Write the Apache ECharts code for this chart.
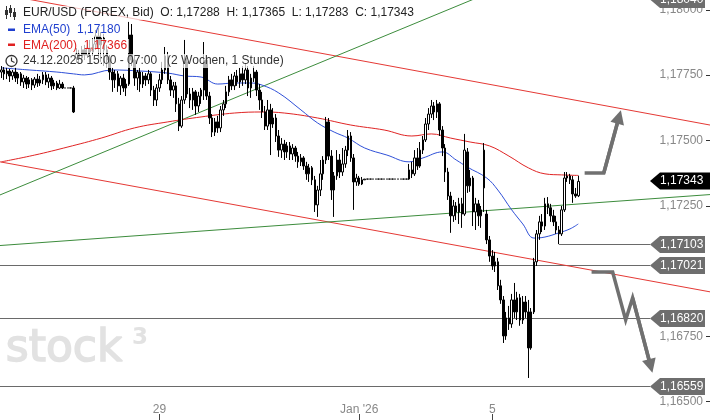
<!DOCTYPE html>
<html><head><meta charset="utf-8">
<script src="https://cdn.jsdelivr.net/npm/echarts@6/dist/echarts.min.js"></script>
<style>html,body{margin:0;padding:0;background:#fff}#c{width:710px;height:420px}</style>
</head><body><div id="c"></div>
<script>
// ---- DATA (hourly candles: [open, close, low, high]) ----
const ohlc = [
[1.17762,1.17770,1.17739,1.17785],[1.17770,1.17755,1.17732,1.17781],[1.17755,1.17766,1.17735,1.17778],[1.17766,1.17747,1.17724,1.17774],
[1.17747,1.17762,1.17732,1.17770],[1.17762,1.17739,1.17724,1.17778],[1.17739,1.17755,1.17716,1.17762],[1.17755,1.17724,1.17709,1.17762],
[1.17724,1.17739,1.17701,1.17751],[1.17739,1.17716,1.17697,1.17747],[1.17716,1.17732,1.17701,1.17743],[1.17732,1.17712,1.17693,1.17739],
[1.17712,1.17735,1.17701,1.17743],[1.17735,1.17720,1.17705,1.17755],[1.17720,1.17732,1.17709,1.17747],[1.17732,1.17751,1.17716,1.17762],
[1.17751,1.17724,1.17712,1.17762],[1.17724,1.17739,1.17701,1.17755],[1.17739,1.17709,1.17693,1.17747],[1.17709,1.17720,1.17697,1.17732],
[1.17720,1.17701,1.17693,1.17728],[1.17701,1.17716,1.17697,1.17732],[1.17716,1.17701,1.17697,1.17724],[1.17701,1.17701,1.17701,1.17701],
[1.17701,1.17701,1.17701,1.17701],[1.17701,1.17701,1.17701,1.17701],[1.17701,1.17609,1.17605,1.17709],[1.17816,1.17831,1.17797,1.17854],
[1.17831,1.17816,1.17801,1.17847],[1.17816,1.17847,1.17801,1.17862],[1.17847,1.17827,1.17808,1.17866],[1.17827,1.17854,1.17816,1.17877],
[1.17854,1.17839,1.17820,1.17885],[1.17839,1.17869,1.17824,1.17892],[1.17869,1.17900,1.17847,1.17923],[1.17900,1.17866,1.17816,1.17931],
[1.17866,1.17892,1.17801,1.17915],[1.17892,1.17847,1.17785,1.17908],[1.17847,1.17808,1.17778,1.17866],[1.17808,1.17762,1.17732,1.17827],
[1.17762,1.17732,1.17686,1.17778],[1.17732,1.17755,1.17701,1.17770],[1.17755,1.17709,1.17686,1.17766],[1.17709,1.17739,1.17674,1.17747],
[1.17739,1.17701,1.17686,1.17755],[1.17701,1.17716,1.17670,1.17735],[1.17716,1.17904,1.17709,1.17954],[1.17904,1.17808,1.17785,1.17946],
[1.17808,1.17739,1.17709,1.17824],[1.17739,1.17762,1.17693,1.17770],[1.17762,1.17716,1.17686,1.17778],[1.17716,1.17747,1.17701,1.17762],
[1.17747,1.17732,1.17709,1.17758],[1.17732,1.17755,1.17716,1.17770],[1.17755,1.17693,1.17670,1.17762],[1.17693,1.17655,1.17632,1.17709],
[1.17655,1.17701,1.17632,1.17716],[1.17701,1.17732,1.17686,1.17755],[1.17732,1.17770,1.17716,1.17801],[1.17770,1.17824,1.17755,1.17858],
[1.17824,1.17732,1.17716,1.17839],[1.17732,1.17693,1.17670,1.17747],[1.17693,1.17709,1.17663,1.17724],[1.17709,1.17640,1.17609,1.17724],
[1.17640,1.17555,1.17536,1.17663],[1.17555,1.17655,1.17548,1.17670],[1.17655,1.17801,1.17640,1.17885],[1.17801,1.17678,1.17663,1.17816],
[1.17678,1.17655,1.17624,1.17701],[1.17655,1.17686,1.17617,1.17701],[1.17686,1.17632,1.17598,1.17693],[1.17632,1.17670,1.17609,1.17686],
[1.17670,1.17693,1.17640,1.17701],[1.17693,1.17808,1.17655,1.17877],[1.17808,1.17670,1.17655,1.17824],[1.17670,1.17586,1.17563,1.17686],
[1.17586,1.17532,1.17513,1.17601],[1.17532,1.17571,1.17517,1.17586],[1.17571,1.17548,1.17529,1.17594],[1.17548,1.17617,1.17532,1.17632],
[1.17617,1.17640,1.17594,1.17655],[1.17640,1.17686,1.17624,1.17709],[1.17686,1.17732,1.17670,1.17747],[1.17732,1.17709,1.17693,1.17755],
[1.17709,1.17747,1.17693,1.17762],[1.17747,1.17724,1.17709,1.17770],[1.17724,1.17755,1.17701,1.17778],[1.17755,1.17732,1.17709,1.17785],
[1.17732,1.17770,1.17716,1.17793],[1.17770,1.17701,1.17670,1.17785],[1.17701,1.17739,1.17663,1.17755],[1.17739,1.17762,1.17724,1.17785],
[1.17762,1.17693,1.17670,1.17770],[1.17693,1.17655,1.17617,1.17716],[1.17655,1.17609,1.17586,1.17686],[1.17609,1.17555,1.17540,1.17632],
[1.17555,1.17617,1.17540,1.17655],[1.17617,1.17563,1.17444,1.17640],[1.17563,1.17586,1.17548,1.17624],[1.17586,1.17517,1.17494,1.17601],
[1.17517,1.17463,1.17437,1.17540],[1.17463,1.17486,1.17433,1.17509],[1.17486,1.17456,1.17425,1.17502],[1.17456,1.17479,1.17433,1.17494],
[1.17479,1.17448,1.17425,1.17494],[1.17448,1.17471,1.17425,1.17486],[1.17471,1.17440,1.17418,1.17479],[1.17440,1.17418,1.17395,1.17456],
[1.17418,1.17433,1.17402,1.17448],[1.17433,1.17402,1.17387,1.17440],[1.17402,1.17372,1.17349,1.17418],[1.17372,1.17395,1.17341,1.17410],
[1.17395,1.17349,1.17329,1.17402],[1.17349,1.17253,1.17226,1.17364],[1.17253,1.17310,1.17207,1.17326],[1.17310,1.17372,1.17287,1.17425],
[1.17372,1.17425,1.17349,1.17440],[1.17425,1.17571,1.17410,1.17590],[1.17571,1.17440,1.17425,1.17586],[1.17440,1.17310,1.17272,1.17463],
[1.17310,1.17364,1.17207,1.17379],[1.17364,1.17425,1.17349,1.17463],[1.17425,1.17379,1.17356,1.17448],[1.17379,1.17410,1.17364,1.17471],
[1.17410,1.17463,1.17395,1.17479],[1.17463,1.17517,1.17440,1.17540],[1.17517,1.17433,1.17418,1.17532],[1.17433,1.17341,1.17234,1.17448],
[1.17341,1.17356,1.17326,1.17372],[1.17356,1.17333,1.17326,1.17364],[1.17333,1.17349,1.17329,1.17360],[1.17349,1.17352,1.17349,1.17352],
[1.17352,1.17352,1.17352,1.17352],[1.17352,1.17352,1.17352,1.17352],[1.17352,1.17352,1.17352,1.17352],[1.17352,1.17352,1.17352,1.17352],
[1.17352,1.17352,1.17352,1.17352],[1.17352,1.17352,1.17352,1.17352],[1.17352,1.17352,1.17352,1.17352],[1.17352,1.17352,1.17352,1.17352],
[1.17352,1.17352,1.17352,1.17352],[1.17352,1.17352,1.17352,1.17352],[1.17352,1.17352,1.17352,1.17352],[1.17352,1.17352,1.17352,1.17352],
[1.17352,1.17352,1.17352,1.17352],[1.17352,1.17352,1.17352,1.17352],[1.17352,1.17352,1.17352,1.17352],[1.17352,1.17387,1.17349,1.17410],
[1.17387,1.17372,1.17356,1.17418],[1.17372,1.17433,1.17364,1.17463],[1.17433,1.17402,1.17387,1.17471],[1.17402,1.17463,1.17395,1.17494],
[1.17463,1.17502,1.17448,1.17517],[1.17502,1.17563,1.17494,1.17586],[1.17563,1.17601,1.17540,1.17624],[1.17601,1.17632,1.17586,1.17655],
[1.17632,1.17609,1.17578,1.17647],[1.17609,1.17640,1.17586,1.17655],[1.17640,1.17540,1.17517,1.17647],[1.17540,1.17471,1.17440,1.17555],
[1.17471,1.17379,1.17341,1.17486],[1.17379,1.17287,1.17272,1.17395],[1.17287,1.17211,1.17146,1.17303],[1.17211,1.17249,1.17188,1.17272],
[1.17249,1.17226,1.17195,1.17264],[1.17226,1.17257,1.17180,1.17280],[1.17257,1.17218,1.17165,1.17280],[1.17218,1.17463,1.17211,1.17525],
[1.17456,1.17326,1.17299,1.17471],[1.17326,1.17356,1.17303,1.17387],[1.17356,1.17226,1.17172,1.17364],[1.17226,1.17257,1.17157,1.17280],
[1.17257,1.17211,1.17172,1.17272],[1.17211,1.17234,1.17165,1.17249],[1.17318,1.17463,1.17226,1.17490],[1.17218,1.17119,1.17103,1.17234],
[1.17119,1.17057,1.17035,1.17134],[1.17057,1.17019,1.17004,1.17080],[1.17019,1.17035,1.16996,1.17073],[1.17035,1.16943,1.16927,1.17050],
[1.16943,1.16889,1.16874,1.16966],[1.16889,1.16751,1.16724,1.16904],[1.16751,1.16820,1.16736,1.16843],[1.16820,1.16797,1.16774,1.16866],
[1.16797,1.16889,1.16782,1.16912],[1.16889,1.16843,1.16820,1.16954],[1.16843,1.16897,1.16812,1.16920],[1.16897,1.16812,1.16790,1.16912],
[1.16812,1.16881,1.16797,1.16904],[1.16881,1.16843,1.16820,1.16904],[1.16843,1.16705,1.16590,1.16889],[1.16705,1.16843,1.16698,1.16858],
[1.16843,1.17035,1.16835,1.17050],[1.17035,1.17142,1.17019,1.17157],[1.17142,1.17188,1.17119,1.17211],[1.17188,1.17172,1.17149,1.17218],
[1.17172,1.17257,1.17157,1.17280],[1.17257,1.17242,1.17218,1.17283],[1.17242,1.17211,1.17188,1.17257],[1.17211,1.17188,1.17172,1.17234],
[1.17188,1.17157,1.17142,1.17211],[1.17157,1.17142,1.17103,1.17172],[1.17142,1.17234,1.17134,1.17249],[1.17234,1.17356,1.17226,1.17379],
[1.17356,1.17364,1.17341,1.17379],[1.17364,1.17349,1.17333,1.17372],[1.17349,1.17295,1.17261,1.17364],[1.17295,1.17287,1.17280,1.17318],
[1.17288,1.17343,1.17283,1.17365]
];
// EMA curves: [candle index, price]
const ema50 = [[0,1.17778],[10,1.17770],[20,1.17762],[26,1.17755],[30,1.17751],[40,1.17770],[50,1.17766],[60,1.17758],[66,1.17747],[72,1.17743],[78,1.17716],[84,1.17720],[90,1.17720],[94,1.17712],[100,1.17682],[108,1.17617],[114,1.17567],[120,1.17532],[125,1.17509],[131,1.17471],[139,1.17444],[147,1.17418],[152,1.17433],[159,1.17456],[164,1.17425],[168,1.17398],[175,1.17356],[179,1.17310],[184,1.17234],[188,1.17180],[192,1.17126],[196,1.17130],[201,1.17146],[205,1.17161],[208,1.17180]];
const ema200 = [[0,1.17418],[12,1.17444],[24,1.17475],[36,1.17509],[48,1.17548],[60,1.17571],[72,1.17590],[84,1.17605],[94,1.17609],[102,1.17605],[114,1.17586],[126,1.17559],[138,1.17540],[148,1.17517],[155,1.17525],[162,1.17509],[169,1.17494],[176,1.17479],[183,1.17440],[190,1.17395],[196,1.17372],[202,1.17368],[208,1.17366]];
const ema50Last = 1.17180, ema200Last = 1.17366;
// trend lines [start, end] in [index, price]
const redLines = [[[-1,1.18062],[256,1.17558]], [[-1,1.17419],[256,1.16919]]];
const greenLines = [[[-1,1.17289],[180,1.18084]], [[-1,1.17097],[256,1.17293]]];
// horizontal levels [start index (-1 = from left), price]
const levels = [[-1,1.18040],[201,1.17103],[-1,1.17021],[-1,1.16820],[-1,1.16559]];
// scenario arrows
const arrowUp = [[210.3,1.17375],[217.2,1.17375],[222.7,1.17590]];
const arrowDown = [[212.8,1.16996],[220.4,1.16996],[225.1,1.16812],[227.6,1.16897],[234.1,1.16636]];
// axis
const xTickLabels = [[57,'29'],[129,"Jan '26"],[177,'5']];
const yTickValues = [1.165,1.1675,1.1725,1.175,1.1775,1.18];
const yMin = 1.16429, yMax = 1.18038;
const SLOTS = 256;

// ---- CHART ----
const fmt = v => v.toFixed(5).replace('.', ',');
const FONT = '12px "Liberation Sans", Arial, sans-serif';
const tickMap = new Map(xTickLabels);
const cats = Array.from({length: SLOTS}, (_, i) => String(i));
const last = ohlc[ohlc.length - 1];
const TAG_W = 60;

function tagShape(tip, right, y, fill, text) {
  const h = 8.5;
  return [
    {type:'polygon', shape:{points:[[tip,y],[tip+10,y-h],[right,y-h],[right,y+h],[tip+10,y+h]]}, style:{fill}},
    {type:'text', x: tip+10, y: y, style:{text, fill:'#fff', font: FONT, verticalAlign:'middle', align:'left'}}
  ];
}
function renderLevel(params, api) {
  const start = api.value(0), price = api.value(1);
  const cs = params.coordSys;
  const right = cs.x + cs.width;
  const tip = right - TAG_W;
  const y = Math.round(api.coord([0, price])[1]) + 0.5;
  const x0 = start < 0 ? cs.x : api.coord([start, price])[0];
  const children = [
    {type:'line', shape:{x1:x0, y1:y, x2:tip, y2:y}, style:{stroke:'#6a6a6a', lineWidth:1}},
    ...tagShape(tip, right - 5, y, '#6e6e6e', fmt(price))
  ];
  if (params.dataIndex === 0) {
    // small y-axis tick marks at the right edge, placed through the price scale
    yTickValues.forEach(v => {
      const ty = Math.round(api.coord([0, v])[1]);
      children.push({type:'rect', shape:{x:right-4, y:ty, width:4, height:1}, style:{fill:'#333'}});
    });
  }
  return {type:'group', children};
}
function renderCurrent(params, api) {
  const price = api.value(1);
  const cs = params.coordSys;
  const right = cs.x + cs.width;
  const y = Math.round(api.coord([0, price])[1]);
  return {type:'group', children: tagShape(right - TAG_W, right, y, '#000', fmt(price))};
}

const lineSeries = (data, color, extra) => Object.assign({
  type:'line', xAxisIndex:1, yAxisIndex:0, data, symbol:'none', silent:true,
  lineStyle:{color, width:1}, z:2, animation:false
}, extra || {});

const option = {
  animation: false,
  backgroundColor: '#fff',
  grid: {left:0, right:0, top:0, bottom:0},
  xAxis: [{
    type:'category', data: cats, boundaryGap:true,
    axisLine:{show:false, onZero:false},
    axisTick:{show:true, inside:true, length:6, alignWithLabel:true, interval:(i)=>tickMap.has(i), lineStyle:{color:'#444'}},
    axisLabel:{inside:true, margin:4, interval:(i)=>tickMap.has(i), formatter:(v,i)=>tickMap.get(i) || '', color:'#888', fontSize:12, fontFamily:'"Liberation Sans", Arial'},
    splitLine:{show:false}
  },{
    type:'value', min:-0.5, max:SLOTS-0.5, show:false, axisLine:{onZero:false}
  }],
  yAxis: [{
    type:'value', position:'right', min:yMin, max:yMax,
    splitLine:{show:false}, axisLine:{show:false, onZero:false},
    axisTick:{show:false},
    axisLabel:{inside:true, margin:7, customValues:yTickValues, formatter:fmt, color:'#888', fontSize:12, fontFamily:'"Liberation Sans", Arial'}
  }],
  graphic: [
    {type:'text', left:5, top:327, z:-10, style:{text:'stock', font:'44px "DejaVu Sans"', fill:'#e2e2e2', stroke:'#e2e2e2', lineWidth:1.5}},
    {type:'text', left:132, top:327, z:-10, style:{text:'3', font:'bold 23px "DejaVu Sans"', fill:'#e2e2e2'}},
    // legend icons
    {type:'group', z:10, children:[
      {type:'line', shape:{x1:6.5,y1:6,x2:6.5,y2:19}, style:{stroke:'#333',lineWidth:1}},
      {type:'rect', shape:{x:5,y:10,width:3,height:5}, style:{fill:'#333'}},
      {type:'line', shape:{x1:10.5,y1:5,x2:10.5,y2:17}, style:{stroke:'#333',lineWidth:1}},
      {type:'rect', shape:{x:9,y:8,width:3,height:5}, style:{fill:'#333'}},
      {type:'line', shape:{x1:14.5,y1:8,x2:14.5,y2:20}, style:{stroke:'#333',lineWidth:1}},
      {type:'rect', shape:{x:13,y:12,width:3,height:5}, style:{fill:'#333'}},
      {type:'rect', shape:{x:8,y:28.5,width:7,height:2.5}, style:{fill:'#1f3fcf'}},
      {type:'rect', shape:{x:8,y:43.5,width:7,height:2.5}, style:{fill:'#e02020'}},
      {type:'circle', shape:{cx:11.5,cy:61,r:5.5}, style:{fill:'rgba(255,255,255,0.7)', stroke:'#333', lineWidth:1.3}},
      {type:'polyline', shape:{points:[[11.5,57.5],[11.5,61],[14.5,62.5]]}, style:{stroke:'#333', lineWidth:1.2, fill:null}}
    ]},
    {type:'text', x:21, y:13, z:10, style:{text:'EUR/USD (FOREX, Bid)  O: '+fmt(last[0])+'  H: '+fmt(last[3])+'  L: '+fmt(last[2])+'  C: '+fmt(last[1]), font:FONT, fill:'#222', verticalAlign:'middle', backgroundColor:'rgba(255,255,255,0.7)', padding:[1,2]}},
    {type:'text', x:21, y:30, z:10, style:{text:'EMA(50)  '+fmt(ema50Last), font:FONT, fill:'#1f3fcf', verticalAlign:'middle', backgroundColor:'rgba(255,255,255,0.7)', padding:[1,2]}},
    {type:'text', x:21, y:46, z:10, style:{text:'EMA(200)  '+fmt(ema200Last), font:FONT, fill:'#e02020', verticalAlign:'middle', backgroundColor:'rgba(255,255,255,0.7)', padding:[1,2]}},
    {type:'text', x:21, y:61, z:10, style:{text:'24.12.2025 15:00 - 07:00   (2 Wochen, 1 Stunde)', font:FONT, fill:'#333', verticalAlign:'middle', backgroundColor:'rgba(255,255,255,0.7)', padding:[1,2]}}
  ],
  series: [
    {type:'custom', xAxisIndex:1, yAxisIndex:0, data: levels, renderItem: renderLevel, z:1, silent:true},
    ...redLines.map(l => lineSeries(l, '#e53935')),
    ...greenLines.map(l => lineSeries(l, '#3c8c3c')),
    lineSeries(ema200, '#e02424', {smooth:0.4, z:3}),
    lineSeries(ema50, '#2f50d8', {smooth:0.4, z:3}),
    {type:'candlestick', xAxisIndex:0, yAxisIndex:0, data: ohlc, barWidth:2, z:4,
     itemStyle:{color:'#fff', color0:'#000', borderColor:'#000', borderColor0:'#000', borderWidth:1}},
    {type:'lines', coordinateSystem:'cartesian2d', xAxisIndex:1, yAxisIndex:0, polyline:true, z:5, silent:true,
     data:[{coords: arrowUp}, {coords: arrowDown}],
     lineStyle:{color:'#707070', width:3.5, opacity:1}},
    {type:'lines', coordinateSystem:'cartesian2d', xAxisIndex:1, yAxisIndex:0, z:5, silent:true,
     symbol:['none','triangle'], symbolSize:[12,14],
     data:[{coords: arrowUp.slice(-2)}, {coords: arrowDown.slice(-2)}],
     lineStyle:{color:'#707070', width:3.5, opacity:1}},
    {type:'custom', xAxisIndex:1, yAxisIndex:0, data: [[ohlc.length-1, last[1]]], renderItem: renderCurrent, z:6, silent:true}
  ]
};
const chart = echarts.init(document.getElementById('c'), null, {renderer:'canvas'});
chart.setOption(option);
</script></body></html>
